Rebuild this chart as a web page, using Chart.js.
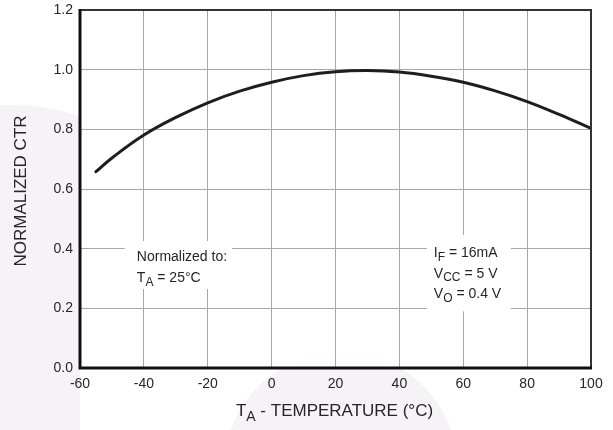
<!DOCTYPE html>
<html>
<head>
<meta charset="utf-8">
<script src="https://cdn.jsdelivr.net/npm/chart.js@4.4.1/dist/chart.umd.min.js"></script>
<style>
    html, body { margin: 0; padding: 0; background: #fff; }
    #wrap { width: 613px; height: 430px; }
</style>
</head>
<body>
<div id="wrap"><canvas id="ctr-chart" width="613" height="430"></canvas></div>
<script>
// Curve (temperature in °C, CTR normalized to 25°C)
const temperatures = [-55, -50, -40, -30, -20, -10, 0, 10, 20, 30, 40, 50, 60, 70, 80, 90, 100];
const normalizedCtr = [0.658, 0.704, 0.781, 0.840, 0.889, 0.928, 0.958, 0.980, 0.993, 0.997, 0.992, 0.978, 0.958, 0.929, 0.893, 0.850, 0.803];

// Axis ticks
const xTicks = [-60, -40, -20, 0, 20, 40, 60, 80, 100];
const yTicks = [0, 0.2, 0.4, 0.6, 0.8, 1.0, 1.2];

// Text notes inside the plot (segments: [text, isSubscript])
const noteLeft = [
    [['Normalized to:', false]],
    [['T', false], ['A', true], [' = 25°C', false]]
];
const noteRight = [
    [['I', false], ['F', true], [' = 16mA', false]],
    [['V', false], ['CC', true], [' = 5 V', false]],
    [['V', false], ['O', true], [' = 0.4 V', false]]
];
const xTitle = [['T', false], ['A', true], [' - TEMPERATURE (°C)', false]];
const yTitle = [['NORMALIZED CTR', false]];

const FONT = '"Liberation Sans", Arial, Helvetica, sans-serif';
const TEXT_COLOR = '#262626';

// Draw a line of text with subscript parts
function drawRich(ctx, segments, x, y, size, align) {
    const subSize = Math.round(size * 0.85);
    let total = 0;
    segments.forEach(([t, sub]) => {
        ctx.font = (sub ? subSize : size) + 'px ' + FONT;
        total += ctx.measureText(t).width;
    });
    let cx = align === 'center' ? x - total / 2 : x;
    ctx.textAlign = 'left';
    ctx.textBaseline = 'alphabetic';
    segments.forEach(([t, sub]) => {
        ctx.font = (sub ? subSize : size) + 'px ' + FONT;
        ctx.fillText(t, cx, sub ? y + size * 0.28 : y);
        cx += ctx.measureText(t).width;
    });
}

// Faint watermark behind the chart
const backgroundPlugin = {
    id: 'background',
    beforeDraw(chart) {
        const { ctx, chartArea } = chart;
        ctx.save();
        ctx.fillStyle = '#f5f3f6';
        ctx.beginPath();
        ctx.rect(0, 0, chartArea.left, chart.height);
        ctx.clip();
        ctx.beginPath();
        ctx.arc(10, 335, 230, 0, Math.PI * 2);
        ctx.fill();
        ctx.restore();

        ctx.save();
        ctx.fillStyle = '#f5f3f6';
        ctx.beginPath();
        ctx.rect(chartArea.left, 0, chart.width - chartArea.left, chart.height);
        ctx.clip();
        ctx.beginPath();
        ctx.arc(341, 469, 117, 0, Math.PI * 2);
        ctx.fill();
        ctx.restore();

        ctx.save();
        ctx.fillStyle = 'rgba(255,255,255,0.85)';
        ctx.fillRect(chartArea.left, chartArea.top, chartArea.right - chartArea.left, chartArea.bottom - chartArea.top);
        ctx.restore();
    }
};

// Notes, frame and axis titles
const decorPlugin = {
    id: 'decor',
    afterDatasetsDraw(chart) {
        const { ctx, chartArea, scales } = chart;
        const x = scales.x, y = scales.y;

        ctx.save();
        ctx.fillStyle = '#fff';
        // white boxes behind the notes
        ctx.fillRect(x.getPixelForValue(-46), y.getPixelForValue(0.426),
            x.getPixelForValue(-12.4) - x.getPixelForValue(-46), y.getPixelForValue(0.265) - y.getPixelForValue(0.426));
        ctx.fillRect(x.getPixelForValue(48.6), y.getPixelForValue(0.446),
            x.getPixelForValue(74.9) - x.getPixelForValue(48.6), y.getPixelForValue(0.19) - y.getPixelForValue(0.446));

        ctx.fillStyle = TEXT_COLOR;
        const leftX = x.getPixelForValue(-42.2);
        drawRich(ctx, noteLeft[0], leftX, y.getPixelForValue(0.376) + 5, 14, 'left');
        drawRich(ctx, noteLeft[1], leftX, y.getPixelForValue(0.304) + 5, 14, 'left');
        const rightX = x.getPixelForValue(50.8);
        drawRich(ctx, noteRight[0], rightX, y.getPixelForValue(0.389) + 5, 14, 'left');
        drawRich(ctx, noteRight[1], rightX, y.getPixelForValue(0.320) + 5, 14, 'left');
        drawRich(ctx, noteRight[2], rightX, y.getPixelForValue(0.251) + 5, 14, 'left');

        // frame
        ctx.strokeStyle = '#333';
        ctx.lineWidth = 2;
        ctx.beginPath();
        ctx.moveTo(chartArea.left, chartArea.top);
        ctx.lineTo(chartArea.right, chartArea.top);
        ctx.lineTo(chartArea.right, chartArea.bottom);
        ctx.stroke();
        ctx.strokeStyle = '#111';
        ctx.lineWidth = 3;
        ctx.beginPath();
        ctx.moveTo(chartArea.left, chartArea.top - 1);
        ctx.lineTo(chartArea.left, chartArea.bottom);
        ctx.lineTo(chartArea.right + 1, chartArea.bottom);
        ctx.stroke();

        // axis titles
        ctx.fillStyle = TEXT_COLOR;
        drawRich(ctx, xTitle, (chartArea.left + chartArea.right) / 2 - 1, 416, 17, 'center');
        ctx.translate(26, 191);
        ctx.rotate(-Math.PI / 2);
        drawRich(ctx, yTitle, 0, 0, 17, 'center');
        ctx.restore();
    }
};

document.addEventListener('DOMContentLoaded', function() {
    const canvas = document.getElementById('ctr-chart');
    new Chart(canvas, {
        type: 'line',
        data: {
            datasets: [{
                label: 'Normalized CTR',
                data: temperatures.map((t, i) => ({ x: t, y: normalizedCtr[i] })),
                borderColor: '#1e1e1e',
                borderWidth: 3,
                borderCapStyle: 'round',
                pointRadius: 0,
                fill: false,
                tension: 0.4
            }]
        },
        options: {
            responsive: false,
            animation: false,
            layout: {
                padding: { top: 10, right: 22, left: 0, bottom: 0 }
            },
            plugins: {
                legend: { display: false },
                tooltip: { enabled: false }
            },
            scales: {
                x: {
                    type: 'linear',
                    min: -60,
                    max: 100,
                    afterBuildTicks: scale => { scale.ticks = xTicks.map(v => ({ value: v })); },
                    afterFit: scale => {
                        scale.height = 62;
                        scale.paddingLeft = 0;
                        scale.paddingRight = 0;
                    },
                    grid: { color: '#a8a8a8', lineWidth: 1, drawTicks: false },
                    border: { display: false },
                    ticks: {
                        color: TEXT_COLOR,
                        padding: 8,
                        maxRotation: 0,
                        font: { family: FONT, size: 14 }
                    }
                },
                y: {
                    type: 'linear',
                    min: 0,
                    max: 1.2,
                    afterBuildTicks: scale => { scale.ticks = yTicks.map(v => ({ value: v })); },
                    afterFit: scale => {
                        scale.width = 80;
                        scale.paddingTop = 0;
                        scale.paddingBottom = 0;
                    },
                    grid: { color: '#a8a8a8', lineWidth: 1, drawTicks: false },
                    border: { display: false },
                    ticks: {
                        color: TEXT_COLOR,
                        padding: 7,
                        font: { family: FONT, size: 14 },
                        callback: value => Number(value).toFixed(1)
                    }
                }
            }
        },
        plugins: [backgroundPlugin, decorPlugin]
    });
});
</script>
</body>
</html>
